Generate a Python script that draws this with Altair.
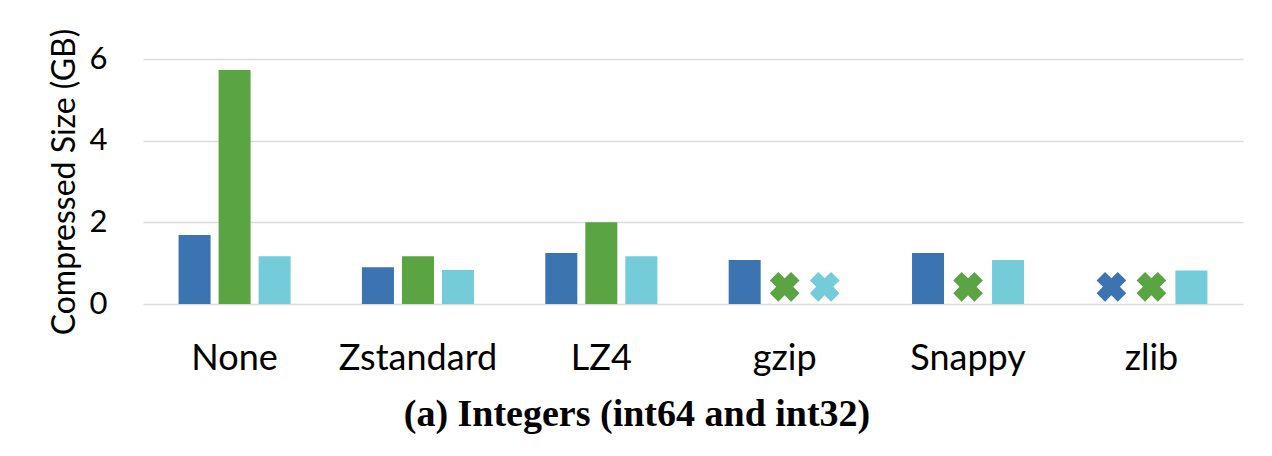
import altair as alt
import pandas as pd

categories = ["None", "Zstandard", "LZ4", "gzip", "Snappy", "zlib"]
series = ["Series 1", "Series 2", "Series 3"]
# compressed size in GB; None = not available (drawn as an X marker)
s1 = [1.69, 0.90, 1.25, 1.08, 1.25, None]
s2 = [5.73, 1.17, 2.00, None, None, None]
s3 = [1.17, 0.83, 1.17, None, 1.08, 0.82]
marker_value = 0.42
colors = ["#3b74b0", "#5aa444", "#74cbd9"]

rows = []
for i, c in enumerate(categories):
    for s, vals in zip(series, [s1, s2, s3]):
        v = vals[i]
        rows.append({"cat": c, "series": s, "value": v if v is not None else None,
                     "marker": marker_value if v is None else None})
df = pd.DataFrame(rows)

x = alt.X("cat:N", sort=categories, title=None,
          scale=alt.Scale(paddingInner=0.389, paddingOuter=0.194),
          axis=alt.Axis(labelFont="Lato", labelFontSize=36, labelColor="#000",
                        labelPadding=37, ticks=False, domain=False, labelAngle=0))
xo = alt.XOffset("series:N", sort=series, scale=alt.Scale(paddingInner=0.2))
col = alt.Color("series:N", sort=series, scale=alt.Scale(domain=series, range=colors), legend=None)

bars = alt.Chart(df).transform_filter("datum.value != null").mark_bar().encode(
    x=x, xOffset=xo,
    y=alt.Y("value:Q", title="Compressed Size (GB)",
            scale=alt.Scale(domain=[0, 6]),
            axis=alt.Axis(values=[0, 2, 4, 6], labelFont="Lato", labelFontSize=31,
                          labelColor="#000", labelPadding=36, ticks=False, domain=False,
                          gridColor="#dcdcdc", gridWidth=1.5,
                          titleFont="Lato", titleFontSize=32, titleFontWeight="normal",
                          titleColor="#000", titlePadding=8)),
    color=col,
)

marks = alt.Chart(df).transform_filter("datum.marker != null").mark_point(
    shape="cross", angle=45, filled=True, size=900, opacity=1
).encode(x=x, xOffset=xo, y=alt.Y("marker:Q"), color=col)

chart = alt.layer(bars, marks).properties(
    width=1100, height=245,
    autosize=alt.AutoSizeParams(type="none"),
    padding={"left": 135, "top": 51, "right": 20, "bottom": 140},
    title=alt.TitleParams("(a) Integers (int64 and int32)", orient="bottom",
                          font="Liberation Serif", fontSize=38, fontWeight="bold",
                          color="#000", offset=20, dx=-56),
).configure_view(stroke=None)

chart.save("out.html", embed_options={"renderer": "svg", "actions": False})
